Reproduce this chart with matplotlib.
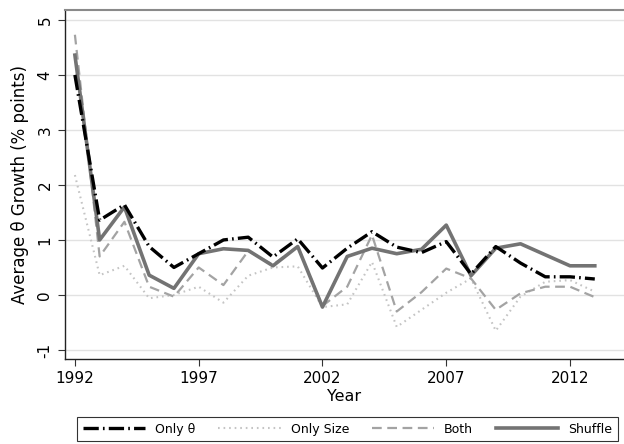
import matplotlib
matplotlib.use("Agg")
import matplotlib.pyplot as plt

years = list(range(1992, 2014))
only_theta = [4.0, 1.36, 1.64, 0.88, 0.5, 0.75, 1.0, 1.05, 0.69, 1.02, 0.49,
              0.85, 1.15, 0.87, 0.77, 0.97, 0.38, 0.88, 0.58, 0.33, 0.33, 0.29]
only_size = [2.18, 0.36, 0.53, -0.06, 0.0, 0.15, -0.14, 0.35, 0.5, 0.52, -0.22,
             -0.17, 0.6, -0.58, -0.27, 0.04, 0.3, -0.65, -0.03, 0.24, 0.27, 0.06]
both = [4.73, 0.70, 1.33, 0.15, -0.03, 0.5, 0.18, 0.8, 0.55, 0.88, -0.2,
        0.15, 1.09, -0.30, 0.05, 0.48, 0.3, -0.27, 0.03, 0.15, 0.15, -0.04]
shuffle = [4.36, 1.0, 1.6, 0.36, 0.12, 0.75, 0.84, 0.81, 0.53, 0.88, -0.22,
           0.70, 0.85, 0.75, 0.83, 1.27, 0.35, 0.85, 0.93, 0.73, 0.53, 0.53]
xticks = [1992, 1997, 2002, 2007, 2012]
yticks = [-1, 0, 1, 2, 3, 4, 5]
labels = ["Only \u03b8", "Only Size", "Both", "Shuffle"]

plt.rcParams['font.family'] = ['DejaVu Sans']
plt.rcParams['lines.scale_dashes'] = False

W, H = 624, 444
fig = plt.figure(figsize=(W / 100, H / 100), dpi=100)
L, R, T, B = 65, 624, 10, 359
ax = fig.add_axes([L / W, 1 - B / H, (R - L) / W, (B - T) / H])

h_size, = ax.plot(years, only_size, color='#c4c4c4', lw=1.5,
                  ls=(0, (1.2, 2.8)), dash_capstyle='butt', label=labels[1])
h_both, = ax.plot(years, both, color='#a3a3a3', lw=1.6,
                  ls=(0, (7, 4)), label=labels[2])
h_shuf, = ax.plot(years, shuffle, color='#737373', lw=2.6,
                  ls='-', label=labels[3])
h_theta, = ax.plot(years, only_theta, color='black', lw=2.4,
                   ls=(0, (11, 3, 1.2, 3)), label=labels[0])

ax.set_xlim(1991.6, 2014.18)
ax.set_ylim(-1.164, 5.18)
ax.set_xticks(xticks)
ax.set_yticks(yticks)
ax.set_yticklabels([str(v) for v in yticks], rotation=90, va='center')
ax.tick_params(axis='both', labelsize=11, length=5, width=0.8, color='#333333')
ax.tick_params(axis='y', pad=4)
ax.grid(axis='y', color='#e2e2e2', lw=1.0)
ax.set_axisbelow(True)
for s in ['left', 'bottom']:
    ax.spines[s].set_color('#222222')
    ax.spines[s].set_linewidth(1.0)
ax.spines['top'].set_color('#8a8a8a')
ax.spines['top'].set_linewidth(1.5)
ax.spines['right'].set_visible(False)

ax.set_xlabel("Year", fontsize=11.5, labelpad=2)
ax.set_ylabel("Average \u03b8 Growth (% points)", fontsize=12, labelpad=6)

leg = fig.legend([h_theta, h_size, h_both, h_shuf], labels, ncol=4,
                 loc='center', bbox_to_anchor=(347.5 / W, 1 - 429 / H),
                 fontsize=9, frameon=True, fancybox=False,
                 edgecolor='black', handlelength=5.0, handletextpad=0.8,
                 columnspacing=1.8, borderpad=0.45, borderaxespad=0)
leg.get_frame().set_linewidth(0.8)

fig.savefig("out.png", dpi=100)
